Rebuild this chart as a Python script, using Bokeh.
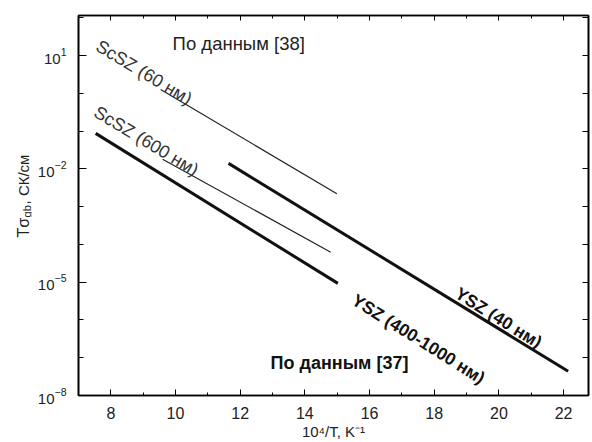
import math
from bokeh.plotting import figure
from bokeh.layouts import row
from bokeh.models import Range1d, LinearAxis, FixedTicker, Label, CustomJSTickFormatter
from bokeh.core.properties import value
from bokeh.embed import file_html
from bokeh.resources import INLINE

# ---- data (10^4/T in K^-1, T*sigma_gb in S*K/cm) ----
scsz60_x = [9.54, 14.99]
scsz60_y = [1.26, 2.2e-3]
scsz600_x = [9.60, 14.80]
scsz600_y = [1.8e-2, 6.2e-5]
ysz400_x = [7.53, 15.02]
ysz400_y = [8.7e-2, 9.3e-6]
ysz40_x = [11.64, 22.14]
ysz40_y = [1.4e-2, 4.4e-8]

x_major = [8, 10, 12, 14, 16, 18, 20, 22]
x_minor = [9, 11, 13, 15, 17, 19, 21]
y_major = [1e-8, 1e-5, 1e-2, 1e1]
y_decades = [10.0 ** k for k in range(-8, 3)]

FONT = "Liberation Sans"
TOP, BOTTOM, H = 15, 47, 442
LEFT_W, MAIN_W = 32, 558

y_range = Range1d(1e-8, 1.15e2)

p = figure(width=MAIN_W, height=H, y_axis_type="log",
           x_range=Range1d(7.0, 22.77), y_range=y_range,
           output_backend="svg", toolbar_location=None,
           min_border_left=78 - LEFT_W, min_border_right=2, min_border_top=TOP,
           min_border_bottom=BOTTOM)
p.grid.visible = False
p.outline_line_color = "#111111"
p.outline_line_width = 1.6

# bottom axis
xa = p.xaxis[0]
xa.ticker = FixedTicker(ticks=x_major, minor_ticks=x_minor)
xa.major_tick_in = 6
xa.major_tick_out = 0
xa.minor_tick_in = 3
xa.minor_tick_out = 0
xa.axis_line_width = 1.6
xa.major_label_text_font = FONT
xa.major_label_text_font_size = "16px"
xa.major_label_text_color = "#222222"
xa.major_label_standoff = 11
xa.axis_label = "10\u2074/T, K\u207b\u00b9"
xa.axis_label_text_font = FONT
xa.axis_label_text_font_size = "15px"
xa.axis_label_text_font_style = "normal"
xa.axis_label_text_color = "#222222"
xa.axis_label_standoff = 1

# left axis
ya = p.yaxis[0]
ya.ticker = FixedTicker(ticks=y_major, minor_ticks=y_decades)
ya.major_tick_in = 8
ya.major_tick_out = 0
ya.minor_tick_in = 5
ya.minor_tick_out = 0
ya.axis_line_width = 1.6
ya.major_label_text_font = FONT
ya.major_label_text_font_size = "15px"
ya.major_label_text_color = "#222222"
ya.major_label_standoff = 12

# mirrored top / right axes (ticks only, no labels)
top = LinearAxis(ticker=FixedTicker(ticks=x_major, minor_ticks=x_minor),
                 formatter=CustomJSTickFormatter(code="return '';"),
                 major_tick_in=5, major_tick_out=0, minor_tick_in=3, minor_tick_out=0,
                 major_label_standoff=0, major_label_text_font_size="1px",
                 axis_line_width=1.6)
p.add_layout(top, "above")
right = LinearAxis(ticker=FixedTicker(ticks=y_decades, minor_ticks=[]),
                   formatter=CustomJSTickFormatter(code="return '';"),
                   major_tick_in=6, major_tick_out=0, minor_tick_in=0, minor_tick_out=0,
                   major_label_standoff=0, major_label_text_font_size="1px",
                   axis_line_width=1.6)
p.add_layout(right, "right")

# lines
p.line(scsz60_x, scsz60_y, line_color="#222222", line_width=1.2)
p.line(scsz600_x, scsz600_y, line_color="#222222", line_width=1.2)
p.line(ysz400_x, ysz400_y, line_color="#111111", line_width=3)
p.line(ysz40_x, ysz40_y, line_color="#111111", line_width=3)

def lab(x, y, text, size, style="normal", angle=0.0, color="#222222",
        align="left", baseline="alphabetic"):
    p.add_layout(Label(x=x, y=y, text=text, angle=angle,
                       text_font=FONT, text_font_size=size, text_font_style=style,
                       text_color=color, text_align=align, text_baseline=baseline))

a_sc = -math.radians(31)
a_ys = -math.radians(32)
lab(7.59, 19.5, "ScSZ (60 нм)", "18px", angle=a_sc, color="#333333")
lab(7.53, 0.35, "ScSZ (600 нм)", "18px", angle=a_sc, color="#333333")
lab(18.70, 5.6e-6, "YSZ (40 нм)", "17.5px", style="bold", angle=a_ys, color="#111111")
lab(15.51, 3.7e-6, "YSZ (400-1000 нм)", "17.5px", style="bold", angle=a_ys, color="#111111")
lab(9.91, 20.8, "По данным [38]", "18.5px", baseline="middle")
lab(12.94, 7.1e-8, "По данным [37]", "18px", style="bold", baseline="middle", color="#111111")

# narrow strip on the left carrying the y-axis title (with subscript)
q = figure(width=LEFT_W, height=H, y_axis_type="log",
           x_range=Range1d(0, LEFT_W), y_range=y_range,
           x_axis_location=None, y_axis_location=None,
           output_backend="svg", toolbar_location=None,
           min_border_left=0, min_border_right=0, min_border_top=TOP,
           min_border_bottom=BOTTOM)
q.grid.visible = False
q.outline_line_color = None
rot = math.pi / 2
q.text(x=[23], y=[10 ** -3.815], text=["Tσ"], angle=rot, text_font=value(FONT),
       text_font_size="16px", text_color="#222222", text_align="left",
       text_baseline="alphabetic")
q.text(x=[26], y=[10 ** -3.286], text=["gb"], angle=rot, text_font=value(FONT),
       text_font_size="11px", text_color="#222222", text_align="left",
       text_baseline="alphabetic")
q.text(x=[23], y=[10 ** -2.942], text=[", СК/см"], angle=rot, text_font=value(FONT),
       text_font_size="15px", text_color="#222222", text_align="left",
       text_baseline="alphabetic")

layout = row(q, p)
open("out.html", "w").write(file_html(layout, INLINE))
